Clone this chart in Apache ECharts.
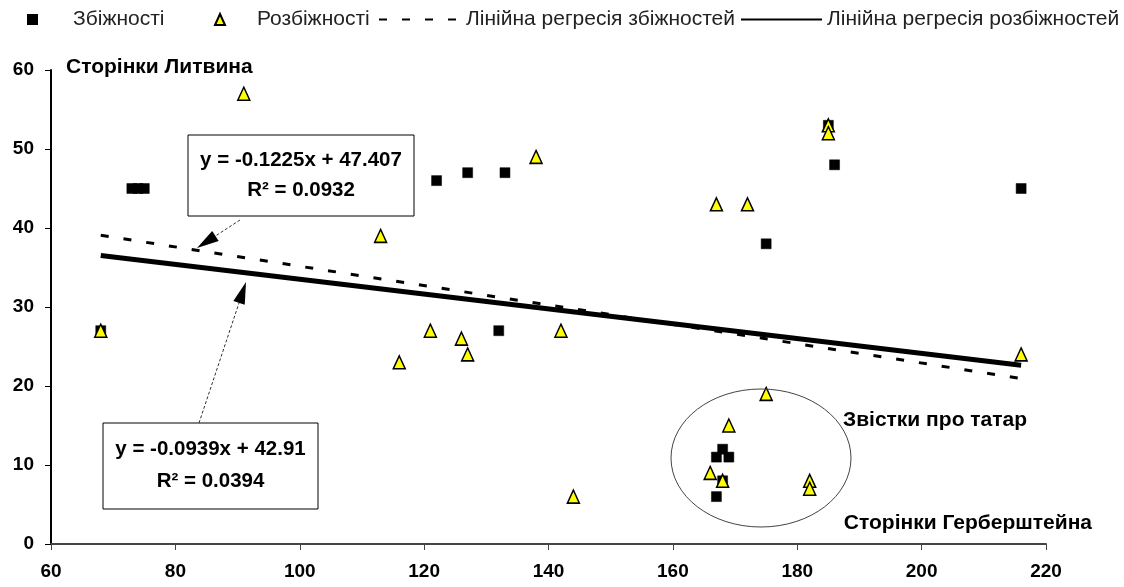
<!DOCTYPE html>
<html>
<head>
<meta charset="utf-8">
<script src="https://cdn.jsdelivr.net/npm/echarts@6/dist/echarts.min.js"></script>
<style>
  html, body { margin: 0; padding: 0; background: #fff; }
  #chart { width: 1124px; height: 587px; }
</style>
</head>
<body>
<div id="chart"></div>
<script>
// series names (legend order)
const SERIES_NAMES = [
  'Збіжності',
  'Розбіжності',
  'Лінійна регресія збіжностей',
  'Лінійна регресія розбіжностей'
]

// Збіжності (black squares)
const convX = [68, 73, 74, 75, 122, 127, 133, 132, 175, 185, 186, 216, 167, 168, 169, 168, 167]
const convY = [27, 45, 45, 45, 46, 47, 47, 27, 38, 53, 48, 45, 11, 12, 11, 8, 6]

// Розбіжності (yellow triangles)
const divX = [68, 91, 113, 116, 121, 126, 127, 138, 142, 144, 167, 172, 185, 185, 216, 175, 169, 166, 168, 182, 182]
const divY = [27, 57, 39, 23, 27, 26, 24, 49, 27, 6, 43, 43, 53, 52, 24, 19, 15, 9, 8, 8, 7]

// trendlines as printed on the chart
const convTrend = { slope: -0.1225, intercept: 47.407, label: 'y = -0.1225x + 47.407', r2: 'R² = 0.0932' }
const divTrend  = { slope: -0.0939, intercept: 42.91,  label: 'y = -0.0939x + 42.91',  r2: 'R² = 0.0394' }

// annotations
const NOTE_LYTVYN = 'Сторінки Литвина'
const NOTE_TATARS = 'Звістки про татар'
const NOTE_HERB   = 'Сторінки Герберштейна'

const zip = (xs, ys) => xs.map((x, i) => [x, ys[i]])
const trendLine = (t, xs) => {
  const lo = Math.min(...xs), hi = Math.max(...xs)
  return [[lo, t.intercept + t.slope * lo], [hi, t.intercept + t.slope * hi]]
}

const LABEL_FONT = 'Liberation Sans, Arial, sans-serif'

function arrow(x1, y1, x2, y2) {
  // dashed shaft from (x1,y1), filled head with tip at (x2,y2)
  const dx = x2 - x1, dy = y2 - y1
  const len = Math.hypot(dx, dy)
  const ux = dx / len, uy = dy / len
  const hl = 22, hw = 6
  const bx = x2 - ux * hl, by = y2 - uy * hl
  return [
    { type: 'line', silent: true, z: 20,
      shape: { x1, y1, x2: bx, y2: by },
      style: { stroke: '#333', lineWidth: 1, lineDash: [3, 2] } },
    { type: 'polygon', silent: true, z: 20,
      shape: { points: [[x2, y2], [bx - uy * hw, by + ux * hw], [bx + uy * hw, by - ux * hw]] },
      style: { fill: '#000' } }
  ]
}

function txt(text, x, y, align, size) {
  return {
    type: 'text', silent: true, z: 21,
    style: {
      text, x, y,
      font: `bold ${size || 21}px ${LABEL_FONT}`,
      fill: '#000',
      align, textAlign: align,
      verticalAlign: 'middle', textVerticalAlign: 'middle'
    }
  }
}

function box(x, y, w, h, line1, line2) {
  const cx = x + w / 2
  return [
    { type: 'rect', silent: true, z: 19,
      shape: { x, y, width: w, height: h },
      style: { fill: '#fff', stroke: '#000', lineWidth: 1 } },
    txt(line1, cx, y + h * 0.31, 'center', 20.5),
    txt(line2, cx, y + h * 0.68, 'center', 20.5)
  ]
}

const legendText = (pad) => ({
  fontFamily: LABEL_FONT,
  fontSize: 21,
  color: '#222',
  padding: [0, 0, 0, pad]
})

const chart = echarts.init(document.getElementById('chart'), null, { renderer: 'canvas' })

chart.setOption({
  animation: false,
  backgroundColor: '#fff',
  legend: [
    { data: [{ name: SERIES_NAMES[0], icon: 'rect' }], left: 22, top: 4,
      itemWidth: 9, itemHeight: 9, textStyle: legendText(31), selectedMode: false },
    { data: [{ name: SERIES_NAMES[1], icon: 'triangle' }], left: 209, top: 4,
      itemWidth: 10, itemHeight: 11, textStyle: legendText(27), selectedMode: false },
    { data: [SERIES_NAMES[2]], left: 373, top: 4,
      itemWidth: 82, itemHeight: 4, textStyle: legendText(0), selectedMode: false,
      itemStyle: { opacity: 0 } },
    { data: [SERIES_NAMES[3]], left: 735, top: 4,
      itemWidth: 81, itemHeight: 5, textStyle: legendText(0), selectedMode: false,
      itemStyle: { opacity: 0 } }
  ],
  grid: {
    left: 51, right: 78, top: 70, bottom: 43,
    containLabel: false, outerBoundsMode: 'none'
  },
  xAxis: {
    type: 'value',
    min: 60, max: 220, interval: 20,
    splitLine: { show: false },
    axisLine: { lineStyle: { color: '#444', width: 2 } },
    axisTick: { length: 6, lineStyle: { color: '#444', width: 1 } },
    axisLabel: { color: '#000', fontFamily: LABEL_FONT, fontWeight: 'bold', fontSize: 19, margin: 18 }
  },
  yAxis: {
    type: 'value',
    min: 0, max: 60, interval: 10,
    splitLine: { show: false },
    axisLine: { show: true, lineStyle: { color: '#000', width: 2 } },
    axisTick: { show: true, length: 6, lineStyle: { color: '#000', width: 1 } },
    axisLabel: { color: '#000', fontFamily: LABEL_FONT, fontWeight: 'bold', fontSize: 19, margin: 17 }
  },
  series: [
    {
      name: SERIES_NAMES[0],
      type: 'scatter',
      symbol: 'rect',
      symbolSize: 10,
      z: 3,
      itemStyle: { color: '#000', opacity: 1, borderColor: '#000', borderWidth: 0.5 },
      data: zip(convX, convY)
    },
    {
      name: SERIES_NAMES[1],
      type: 'scatter',
      symbol: 'triangle',
      symbolSize: [12, 13],
      z: 4,
      itemStyle: { color: '#ffff00', opacity: 1, borderColor: '#000', borderWidth: 1.5 },
      data: zip(divX, divY)
    },
    {
      name: SERIES_NAMES[2],
      type: 'line',
      symbol: 'none',
      z: 2,
      itemStyle: { color: '#000' },
      lineStyle: { color: '#000', width: 3, type: [8, 15] },
      data: trendLine(convTrend, convX)
    },
    {
      name: SERIES_NAMES[3],
      type: 'line',
      symbol: 'none',
      z: 2,
      itemStyle: { color: '#000' },
      lineStyle: { color: '#000', width: 5 },
      data: trendLine(divTrend, divX)
    }
  ],
  graphic: [
    txt(NOTE_LYTVYN, 66, 67, 'left'),
    txt(NOTE_TATARS, 843, 420, 'left'),
    txt(NOTE_HERB, 1092, 523, 'right'),
    { type: 'ellipse', silent: true, z: 18,
      shape: { cx: 761, cy: 458, rx: 90, ry: 69 },
      style: { fill: 'none', stroke: '#444', lineWidth: 1 } },
    ...box(188, 135, 226, 81, convTrend.label, convTrend.r2),
    ...box(103, 423, 215, 86, divTrend.label, divTrend.r2),
    ...arrow(240, 220, 197, 248),
    ...arrow(199, 423, 246, 282)
  ]
})
</script>
</body>
</html>
